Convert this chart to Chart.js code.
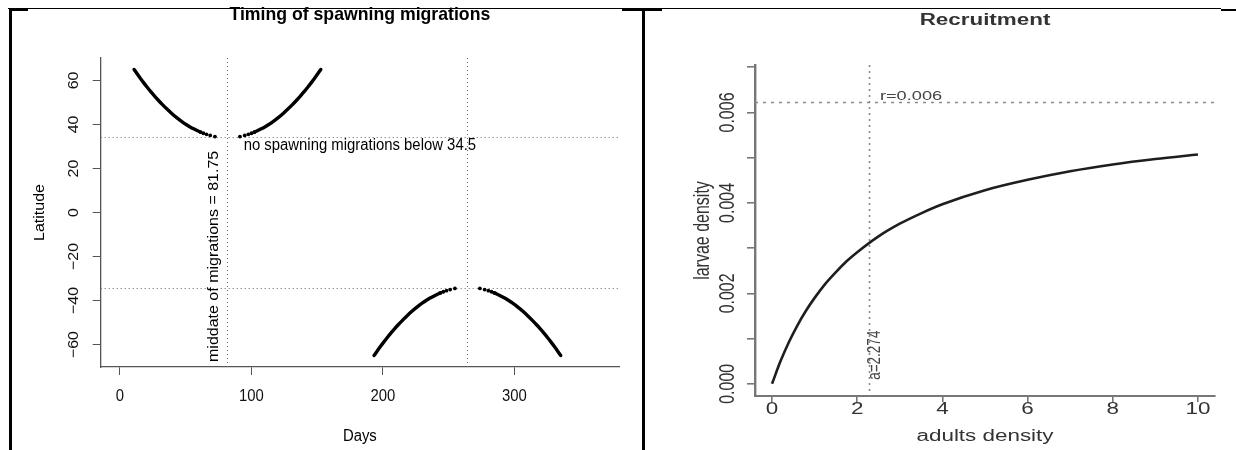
<!DOCTYPE html>
<html>
<head>
<meta charset="utf-8">
<script src="https://cdn.jsdelivr.net/npm/chart.js@4.4.1/dist/chart.umd.min.js"></script>
<style>
  html, body { margin: 0; padding: 0; background: #fff; }
  #page { position: relative; width: 1236px; height: 450px; overflow: hidden; background: #fff; }
  .rule { position: absolute; background: #000; }
  #leftBox { position: absolute; left: 12px; top: 0; width: 629px; height: 450px; }
  #rightBox { position: absolute; left: 646px; top: 0; width: 590px; height: 450px; filter: blur(0.6px); }
</style>
</head>
<body>
<div id="page">
  <!-- table rules around the two figures -->
  <div class="rule" style="left:8px;top:7.5px;width:1213px;height:1.5px"></div>
  <div class="rule" style="left:10px;top:8.5px;width:18px;height:2px"></div>
  <div class="rule" style="left:622px;top:8.5px;width:40px;height:2px"></div>
  <div class="rule" style="left:1221px;top:9px;width:15px;height:2px"></div>
  <div class="rule" style="left:9px;top:8px;width:2.5px;height:442px"></div>
  <div class="rule" style="left:642px;top:8px;width:2.5px;height:442px"></div>
  <div id="leftBox"><canvas id="spawn" width="629" height="450"></canvas></div>
  <div id="rightBox"><canvas id="recruit" width="590" height="450"></canvas></div>
</div>
<script>
// ---------- Timing of spawning migrations ----------
const latNorth = [65, 63, 61, 59, 57, 55, 53, 51, 49, 47, 45, 43, 41, 40, 39, 38, 37, 36.5, 36, 35.5, 35, 34.5];
const latSouth = [-65, -63, -61, -59, -57, -55, -53, -51, -49, -47, -45, -43, -41, -40, -39, -38, -37, -36.5, -36, -35.5, -35, -34.5];
// days for each latitude: northern run before / after the middate, southern run before / after
const daysNorthBefore = [10.8, 13.1, 15.5, 18.0, 20.6, 23.3, 26.2, 29.2, 32.4, 35.8, 39.4, 43.4, 47.9, 50.4, 53.1, 56.1, 59.5, 61.4, 63.5, 65.9, 68.7, 72.3];
const daysNorthAfter  = [152.8, 150.5, 148.1, 145.6, 143.0, 140.3, 137.4, 134.4, 131.2, 127.8, 124.2, 120.2, 115.7, 113.2, 110.5, 107.5, 104.1, 102.2, 100.1, 97.7, 94.9, 91.3];
const daysSouthBefore = [193.3, 195.6, 198.0, 200.5, 203.1, 205.8, 208.7, 211.7, 214.9, 218.3, 221.9, 225.9, 230.4, 232.9, 235.6, 238.6, 242.0, 243.9, 246.0, 248.4, 251.2, 254.8];
const daysSouthAfter  = [335.3, 333.0, 330.6, 328.1, 325.5, 322.8, 319.9, 316.9, 313.7, 310.3, 306.7, 302.7, 298.2, 295.7, 293.0, 290.0, 286.6, 284.7, 282.6, 280.2, 277.4, 273.8];
const middate = 81.75;          // northern middate of migrations
const middateSouth = 264.25;    // six months later in the south
const minLatitude = 34.5;       // no spawning migrations below this latitude
const noteDay = 182.5;          // where the latitude note is centred
const dayTicks = [0, 100, 200, 300];
const latTicks = [-60, -40, -20, 0, 20, 40, 60];
const dayRange = [-14.6, 379.6];
const latRange = [-70.2, 70.2];

// ---------- Recruitment ----------
const adults = [0, 0.2, 0.4, 0.6, 0.8, 1, 1.25, 1.5, 1.75, 2, 2.5, 3, 3.5, 4, 5, 6, 7, 8, 9, 10];
const larvae = [0, 0.000503, 0.000931, 0.0013, 0.00162, 0.0019, 0.00221, 0.00247, 0.00271, 0.00291, 0.00326, 0.00354, 0.00377, 0.00397, 0.00428, 0.00451, 0.0047, 0.00485, 0.00497, 0.00507];
const rMax = 0.006225;          // asymptotic larvae density
const aHalf = 2.274;            // adults density at half of r
const adultTicks = [0, 2, 4, 6, 8, 10];
const larvaeTicks = [0, 0.001, 0.002, 0.003, 0.004, 0.005, 0.006, 0.007];
const larvaeLabelTicks = [0, 0.002, 0.004, 0.006];
const adultRange = [-0.4, 10.4];
const larvaeRange = [-0.00027, 0.00705];

const SANS = '"Liberation Sans", Arial, Helvetica, sans-serif';

function drawText(ctx, s, x, y, o) {
  ctx.save();
  ctx.translate(x, y);
  ctx.scale(o.sx || 1, 1);
  if (o.rot) ctx.rotate(o.rot);
  ctx.font = o.font;
  ctx.fillStyle = o.color || '#000';
  ctx.textAlign = o.align || 'center';
  ctx.textBaseline = o.base || 'middle';
  ctx.fillText(s, 0, 0);
  ctx.restore();
}

function refLine(ctx, x0, y0, x1, y1, color, dash, w) {
  ctx.save();
  ctx.strokeStyle = color;
  ctx.lineWidth = w || 1;
  ctx.setLineDash(dash);
  ctx.beginPath();
  ctx.moveTo(x0, y0);
  ctx.lineTo(x1, y1);
  ctx.stroke();
  ctx.restore();
}

const minus = v => String(v).replace('-', '\u2212');

function branch(days, lats) {
  return {
    data: days.map((d, i) => ({ x: d, y: lats[i] })),
    showLine: true,
    borderColor: '#000',
    backgroundColor: '#000',
    borderWidth: 3.4,
    borderCapStyle: 'round',
    tension: 0.3,
    pointRadius: c => (Math.abs(c.raw.y) <= 36.5 ? 1.9 : 0),
    pointBorderWidth: 0,
    segment: {
      borderColor: s => (Math.min(Math.abs(s.p0.parsed.y), Math.abs(s.p1.parsed.y)) < 36.4 ? 'rgba(0,0,0,0)' : '#000')
    }
  };
}

// the left figure is printed slightly narrower than tall
const NARROW = 0.93;

const spawnDecor = {
  id: 'spawnDecor',
  beforeDatasetsDraw(chart) {
    const { ctx, chartArea: a, scales: { x, y } } = chart;
    const dot = [1, 3];
    [minLatitude, -minLatitude].forEach(v => {
      const py = Math.round(y.getPixelForValue(v)) + 0.5;
      refLine(ctx, a.left, py, a.right, py, '#666', dot);
    });
    [middate, middateSouth].forEach(v => {
      const px = Math.round(x.getPixelForValue(v)) + 0.5;
      refLine(ctx, px, a.top, px, a.bottom, '#666', dot);
    });
  },
  afterDraw(chart) {
    const { ctx, chartArea: a, scales: { x, y } } = chart;
    const cx = (a.left + a.right) / 2;
    const f16 = '16px ' + SANS;
    const n = NARROW;
    drawText(ctx, 'Timing of spawning migrations', cx, a.top - 43, { font: 'bold 19px ' + SANS, sx: n });
    drawText(ctx, 'Days', cx, a.bottom + 70, { font: f16, sx: n });
    drawText(ctx, 'Latitude', a.left - 61, (a.top + a.bottom) / 2, { font: f16, sx: n, rot: -Math.PI / 2 });
    dayTicks.forEach(v => drawText(ctx, String(v), x.getPixelForValue(v), a.bottom + 30, { font: f16, sx: n, color: '#111' }));
    latTicks.forEach(v => drawText(ctx, minus(v), a.left - 27, y.getPixelForValue(v), { font: f16, sx: n, color: '#111', rot: -Math.PI / 2 }));
    drawText(ctx, 'no spawning migrations below ' + minLatitude, x.getPixelForValue(noteDay), y.getPixelForValue(minLatitude) + 9, { font: f16, sx: n });
    drawText(ctx, 'middate of migrations = ' + middate, x.getPixelForValue(middate) - 13, a.bottom - 5,
      { font: f16, sx: n, rot: -Math.PI / 2, align: 'left' });
  }
};

new Chart(document.getElementById('spawn'), {
  type: 'scatter',
  data: {
    datasets: [
      branch(daysNorthBefore, latNorth),
      branch(daysNorthAfter, latNorth),
      branch(daysSouthBefore, latSouth),
      branch(daysSouthAfter, latSouth)
    ]
  },
  options: {
    responsive: false,
    animation: false,
    devicePixelRatio: 1,
    layout: { padding: { left: 0, right: 22, top: 58, bottom: 0 } },
    plugins: { legend: { display: false }, tooltip: { enabled: false } },
    scales: {
      x: {
        type: 'linear', min: dayRange[0], max: dayRange[1],
        afterBuildTicks: s => { s.ticks = dayTicks.map(v => ({ value: v })); },
        afterFit: s => { s.height = 83; },
        grid: { drawOnChartArea: false, drawTicks: true, tickLength: 8, color: '#555', lineWidth: 1 },
        border: { display: true, color: '#555', width: 1.3 },
        ticks: { display: false }
      },
      y: {
        type: 'linear', min: latRange[0], max: latRange[1],
        afterBuildTicks: s => { s.ticks = latTicks.map(v => ({ value: v })); },
        afterFit: s => { s.width = 88.7; },
        grid: { drawOnChartArea: false, drawTicks: true, tickLength: 8, color: '#555', lineWidth: 1 },
        border: { display: true, color: '#555', width: 1.3 },
        ticks: { display: false }
      }
    }
  },
  plugins: [spawnDecor]
});

// the recruitment figure is printed wider than tall, so its lettering is widened too
const WIDE = 1.4;

const recruitDecor = {
  id: 'recruitDecor',
  beforeDatasetsDraw(chart) {
    const { ctx, chartArea: a, scales: { x, y } } = chart;
    const py = Math.round(y.getPixelForValue(rMax)) + 0.5;
    refLine(ctx, a.left, py, a.right, py, '#8a8a8a', [3, 5], 1.3);
    const px = Math.round(x.getPixelForValue(aHalf)) + 0.5;
    refLine(ctx, px, a.top, px, a.bottom, '#8a8a8a', [2, 4], 1.6);
  },
  afterDraw(chart) {
    const { ctx, chartArea: a, scales: { x, y } } = chart;
    const cx = (a.left + a.right) / 2;
    const col = '#333';
    const f16 = '16px ' + SANS;
    drawText(ctx, 'Recruitment', cx, a.top - 44, { font: 'bold 16px ' + SANS, sx: WIDE, color: col });
    drawText(ctx, 'adults density', cx, a.bottom + 41, { font: f16, sx: WIDE, color: col });
    drawText(ctx, 'larvae density', a.left - 52, (a.top + a.bottom) / 2, { font: f16, sx: WIDE, color: col, rot: -Math.PI / 2 });
    adultTicks.forEach(v => drawText(ctx, String(v), x.getPixelForValue(v), a.bottom + 14, { font: f16, sx: WIDE, color: col }));
    larvaeLabelTicks.forEach(v => drawText(ctx, v.toFixed(3), a.left - 27, y.getPixelForValue(v), { font: f16, sx: WIDE, color: col, rot: -Math.PI / 2 }));
    drawText(ctx, 'r=' + rMax.toFixed(3), x.getPixelForValue(aHalf) + 11, y.getPixelForValue(rMax) - 6,
      { font: '13px ' + SANS, sx: WIDE, color: '#444', align: 'left' });
    drawText(ctx, 'a=' + aHalf, x.getPixelForValue(aHalf) + 6, y.getPixelForValue(0) - 4,
      { font: '13.5px ' + SANS, sx: WIDE, color: '#444', rot: -Math.PI / 2, align: 'left' });
  }
};

new Chart(document.getElementById('recruit'), {
  type: 'scatter',
  data: {
    datasets: [{
      data: adults.map((v, i) => ({ x: v, y: larvae[i] })),
      showLine: true,
      borderColor: '#1e1e1e',
      backgroundColor: '#1e1e1e',
      borderWidth: 2.6,
      cubicInterpolationMode: 'monotone',
      pointRadius: 0
    }]
  },
  options: {
    responsive: false,
    animation: false,
    devicePixelRatio: 1,
    layout: { padding: { left: 0, right: 21, top: 65, bottom: 0 } },
    plugins: { legend: { display: false }, tooltip: { enabled: false } },
    scales: {
      x: {
        type: 'linear', min: adultRange[0], max: adultRange[1],
        afterBuildTicks: s => { s.ticks = adultTicks.map(v => ({ value: v })); },
        afterFit: s => { s.height = 54; },
        grid: { drawOnChartArea: false, drawTicks: true, tickLength: 6, color: '#777', lineWidth: 1.6 },
        border: { display: true, color: '#777', width: 2 },
        ticks: { display: false }
      },
      y: {
        type: 'linear', min: larvaeRange[0], max: larvaeRange[1],
        afterBuildTicks: s => { s.ticks = larvaeTicks.map(v => ({ value: v })); },
        afterFit: s => { s.width = 109; },
        grid: { drawOnChartArea: false, drawTicks: true, tickLength: 8, color: '#777', lineWidth: 1.6 },
        border: { display: true, color: '#777', width: 2.4 },
        ticks: { display: false }
      }
    }
  },
  plugins: [recruitDecor]
});
</script>
</body>
</html>
